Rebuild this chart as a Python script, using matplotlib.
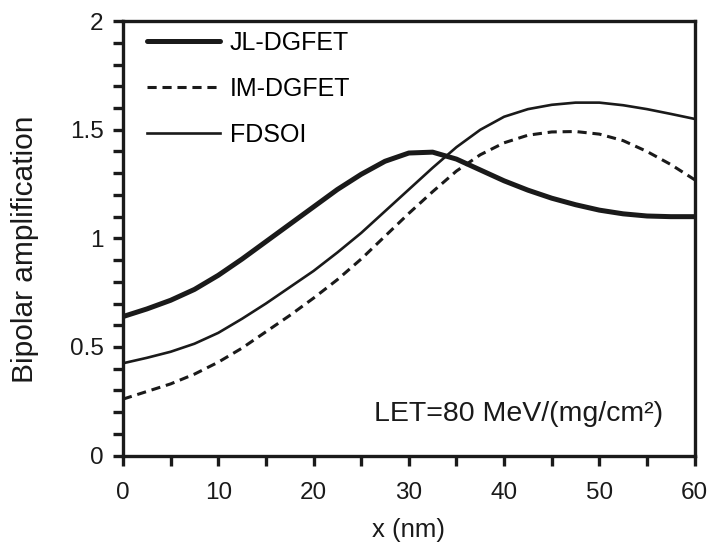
import matplotlib
matplotlib.use("Agg")
import matplotlib.pyplot as plt
from matplotlib.ticker import MultipleLocator

plt.rcParams['font.family'] = ['Liberation Sans', 'DejaVu Sans']

# posiciones (nm)
x_nm = [0, 2.5, 5, 7.5, 10, 12.5, 15, 17.5, 20, 22.5, 25, 27.5, 30, 32.5,
        35, 37.5, 40, 42.5, 45, 47.5, 50, 52.5, 55, 57.5, 60]

jl_dgfet = [0.64, 0.675, 0.715, 0.765, 0.83, 0.905, 0.985, 1.065, 1.145, 1.225, 1.295,
            1.355, 1.393, 1.397, 1.365, 1.315, 1.265, 1.222, 1.185, 1.155, 1.13, 1.113,
            1.103, 1.10, 1.10]
im_dgfet = [0.26, 0.295, 0.33, 0.375, 0.43, 0.495, 0.57, 0.645, 0.725, 0.81, 0.905, 1.01,
            1.115, 1.215, 1.31, 1.385, 1.44, 1.475, 1.49, 1.492, 1.48, 1.45, 1.40, 1.34, 1.27]
fdsoi = [0.425, 0.45, 0.478, 0.515, 0.565, 0.63, 0.70, 0.775, 0.85, 0.935, 1.025, 1.125,
         1.225, 1.325, 1.42, 1.50, 1.56, 1.595, 1.615, 1.625, 1.625, 1.613, 1.595, 1.573, 1.55]

ink = '#1a1a1a'

fig = plt.figure(figsize=(7.11, 5.43), dpi=100)
ax = fig.add_axes([0.173, 0.161, 0.804, 0.800])

ax.plot(x_nm, jl_dgfet, color=ink, lw=3.6, label='JL-DGFET', solid_capstyle='round')
ax.plot(x_nm, im_dgfet, color=ink, lw=2.2, ls=(0, (3.0, 1.9)), label='IM-DGFET')
ax.plot(x_nm, fdsoi, color=ink, lw=1.9, label='FDSOI')

ax.set_xlim(0, 60)
ax.set_ylim(0, 2)
ax.xaxis.set_major_locator(MultipleLocator(10))
ax.xaxis.set_minor_locator(MultipleLocator(5))
ax.yaxis.set_minor_locator(MultipleLocator(0.1))
ax.set_yticks([0, 0.5, 1, 1.5, 2])
ax.set_yticklabels(['0', '0.5', '1', '1.5', '2'])

ax.tick_params(which='both', direction='out', width=2.4, length=7, labelsize=17.5,
               color=ink, labelcolor=ink)
ax.tick_params(axis='x', pad=12)
ax.tick_params(axis='y', pad=7)
for s in ax.spines.values():
    s.set_linewidth(2.4)
    s.set_color(ink)

ax.set_xlabel('x (nm)', fontsize=18.5, color=ink, labelpad=10)
ax.set_ylabel('Bipolar amplification', fontsize=21.5, color=ink)
ax.yaxis.set_label_coords(-0.147, 0.475)

ax.legend(loc='upper left', frameon=False, fontsize=18, handlelength=2.92,
          handletextpad=0.4, labelspacing=0.87, borderaxespad=0,
          bbox_to_anchor=(0.0245, 1.0))

ax.text(0.944, 0.095, 'LET=80 MeV/(mg/cm²)', transform=ax.transAxes, ha='right',
        va='center', fontsize=20.5, color=ink)

fig.savefig('out.png', dpi=100)
